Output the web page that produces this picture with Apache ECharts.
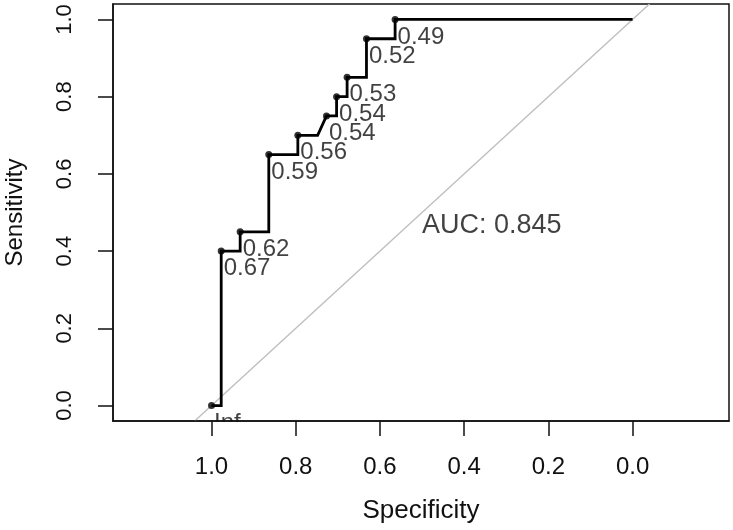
<!DOCTYPE html>
<html><head><meta charset="utf-8">
<script src="https://cdn.jsdelivr.net/npm/echarts@6/dist/echarts.min.js"></script>
<style>html,body{margin:0;padding:0;background:#fff}#c{width:733px;height:530px}</style>
</head><body><div id="c"></div>
<script>
// ROC curve path (specificity, sensitivity)
const curveSpec = [1.0, 0.977, 0.977, 0.932, 0.932, 0.864, 0.864, 0.795, 0.795, 0.748, 0.727, 0.703, 0.703, 0.678, 0.678, 0.632, 0.632, 0.564, 0.564, 0.0];
const curveSens = [0.0, 0.0, 0.40, 0.40, 0.45, 0.45, 0.65, 0.65, 0.70, 0.70, 0.75, 0.75, 0.80, 0.80, 0.85, 0.85, 0.95, 0.95, 1.0, 1.0];
// threshold points
const thrSpec = [1.0, 0.977, 0.932, 0.864, 0.795, 0.727, 0.703, 0.678, 0.632, 0.564];
const thrSens = [0.0, 0.40, 0.45, 0.65, 0.70, 0.75, 0.80, 0.85, 0.95, 1.0];
const thrLabels = ['Inf', '0.67', '0.62', '0.59', '0.56', '0.54', '0.54', '0.53', '0.52', '0.49'];
// chance diagonal
const diagSpec = [1.04, -0.04];
const diagSens = [-0.04, 1.04];
// ticks
const xTicks = [1.0, 0.8, 0.6, 0.4, 0.2, 0.0];
const yTicks = [0.0, 0.2, 0.4, 0.6, 0.8, 1.0];
const aucText = 'AUC: 0.845';
const aucPos = [0.5, 0.5];

const FONT = '"Liberation Sans", Arial, sans-serif';
const INK = '#111';

const chart = echarts.init(document.getElementById('c'), null, {renderer: 'canvas'});
chart.setOption({
  animation: false,
  backgroundColor: '#fff',
  grid: {left: 113, right: 4, top: 4, bottom: 109, show: true, outerBoundsMode: 'none', containLabel: false,
         borderColor: INK, borderWidth: 1.5, backgroundColor: 'transparent'},
  xAxis: {
    type: 'value', inverse: true, min: -0.229, max: 1.234, z: 10,
    axisLine: {show: true, onZero: false, lineStyle: {color: INK, width: 1.5}},
    axisTick: {show: true, length: 15, customValues: xTicks, lineStyle: {color: INK, width: 1.5}},
    axisLabel: {customValues: xTicks, formatter: v => v.toFixed(1), margin: 34, fontSize: 24, fontFamily: FONT, color: INK},
    splitLine: {show: false},
    name: 'Specificity', nameLocation: 'middle', nameGap: 77,
    nameTextStyle: {fontSize: 26, fontFamily: FONT, color: INK}
  },
  yAxis: {
    type: 'value', min: -0.04, max: 1.04, z: 10,
    axisLine: {show: true, onZero: false, lineStyle: {color: INK, width: 1.5}},
    axisTick: {show: true, length: 15, customValues: yTicks, lineStyle: {color: INK, width: 1.5}},
    axisLabel: {customValues: yTicks, formatter: v => v.toFixed(1), rotate: 90, margin: 37, fontSize: 22, fontFamily: FONT, color: INK},
    splitLine: {show: false},
    name: 'Sensitivity', nameLocation: 'middle', nameRotate: 90, nameGap: 86,
    nameTextStyle: {fontSize: 24, fontFamily: FONT, color: INK}
  },
  graphic: [{
    type: 'rect', z: 5, silent: true,
    shape: {x: 198, y: 422, width: 50, height: 17},
    style: {fill: '#fff'}
  }],
  series: [
    {
      type: 'line', z: 1, silent: true, symbol: 'none', clip: true,
      data: diagSpec.map((s, i) => [s, diagSens[i]]),
      lineStyle: {color: '#bdbdbd', width: 1.3}
    },
    {
      type: 'line', z: 3, silent: true, symbol: 'none', clip: true,
      data: curveSpec.map((s, i) => [s, curveSens[i]]),
      lineStyle: {color: '#000', width: 2.8, join: 'miter'}
    },
    {
      type: 'scatter', z: 4, silent: true, symbolSize: 7, clip: false,
      itemStyle: {color: '#000'},
      data: thrSpec.map((s, i) => ({value: [s, thrSens[i]], name: thrLabels[i]})),
      label: {show: true, formatter: p => p.name, position: [6, 9], fontSize: 24, fontFamily: FONT, color: INK}
    },
    {
      type: 'scatter', z: 4, silent: true, symbolSize: 0,
      data: [{value: aucPos, name: aucText}],
      label: {show: true, formatter: p => p.name, position: [0, 0], fontSize: 27, fontFamily: FONT, color: INK}
    }
  ]
});
</script></body></html>
